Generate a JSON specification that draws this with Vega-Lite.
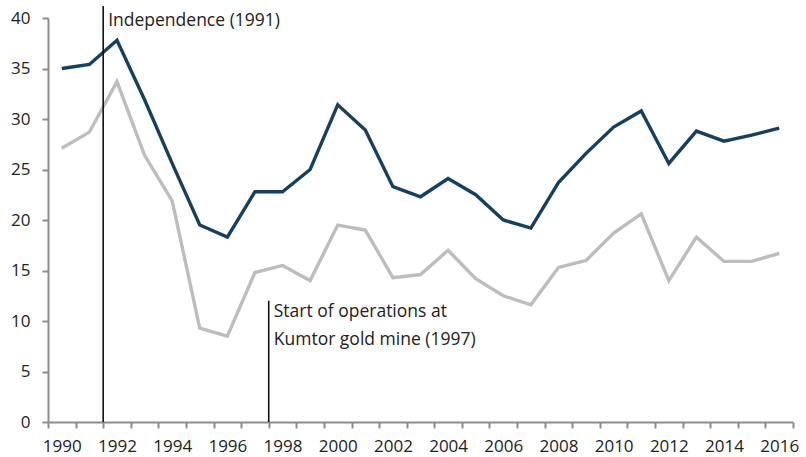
{
  "$schema": "https://vega.github.io/schema/vega-lite/v6.json",
  "width": 745,
  "height": 404,
  "autosize": {"type": "none"},
  "padding": {"left": 48, "top": 18, "right": 13, "bottom": 35},
  "background": "white",
  "config": {
    "view": {"stroke": null},
    "font": "Open Sans",
    "axis": {"grid": false, "labelFont": "Open Sans", "labelFontSize": 17, "labelColor": "#222222", "domainColor": "#8c8c8c", "tickColor": "#8c8c8c", "domainWidth": 2, "tickWidth": 2, "title": null}
  },
  "datasets": {
    "series": [
      {"year": 1990, "series": "A", "value": 35.0},
      {"year": 1991, "series": "A", "value": 35.4},
      {"year": 1992, "series": "A", "value": 37.8},
      {"year": 1993, "series": "A", "value": 31.9},
      {"year": 1994, "series": "A", "value": 25.6},
      {"year": 1995, "series": "A", "value": 19.5},
      {"year": 1996, "series": "A", "value": 18.3},
      {"year": 1997, "series": "A", "value": 22.8},
      {"year": 1998, "series": "A", "value": 22.8},
      {"year": 1999, "series": "A", "value": 25.0},
      {"year": 2000, "series": "A", "value": 31.4},
      {"year": 2001, "series": "A", "value": 28.9},
      {"year": 2002, "series": "A", "value": 23.3},
      {"year": 2003, "series": "A", "value": 22.3},
      {"year": 2004, "series": "A", "value": 24.1},
      {"year": 2005, "series": "A", "value": 22.5},
      {"year": 2006, "series": "A", "value": 20.0},
      {"year": 2007, "series": "A", "value": 19.2},
      {"year": 2008, "series": "A", "value": 23.7},
      {"year": 2009, "series": "A", "value": 26.6},
      {"year": 2010, "series": "A", "value": 29.2},
      {"year": 2011, "series": "A", "value": 30.8},
      {"year": 2012, "series": "A", "value": 25.6},
      {"year": 2013, "series": "A", "value": 28.8},
      {"year": 2014, "series": "A", "value": 27.8},
      {"year": 2015, "series": "A", "value": 28.4},
      {"year": 2016, "series": "A", "value": 29.1},
      {"year": 1990, "series": "B", "value": 27.1},
      {"year": 1991, "series": "B", "value": 28.7},
      {"year": 1992, "series": "B", "value": 33.7},
      {"year": 1993, "series": "B", "value": 26.4},
      {"year": 1994, "series": "B", "value": 21.9},
      {"year": 1995, "series": "B", "value": 9.3},
      {"year": 1996, "series": "B", "value": 8.5},
      {"year": 1997, "series": "B", "value": 14.8},
      {"year": 1998, "series": "B", "value": 15.5},
      {"year": 1999, "series": "B", "value": 14.0},
      {"year": 2000, "series": "B", "value": 19.5},
      {"year": 2001, "series": "B", "value": 19.0},
      {"year": 2002, "series": "B", "value": 14.3},
      {"year": 2003, "series": "B", "value": 14.6},
      {"year": 2004, "series": "B", "value": 17.0},
      {"year": 2005, "series": "B", "value": 14.2},
      {"year": 2006, "series": "B", "value": 12.5},
      {"year": 2007, "series": "B", "value": 11.6},
      {"year": 2008, "series": "B", "value": 15.3},
      {"year": 2009, "series": "B", "value": 16.0},
      {"year": 2010, "series": "B", "value": 18.7},
      {"year": 2011, "series": "B", "value": 20.6},
      {"year": 2012, "series": "B", "value": 14.0},
      {"year": 2013, "series": "B", "value": 18.3},
      {"year": 2014, "series": "B", "value": 15.9},
      {"year": 2015, "series": "B", "value": 15.9},
      {"year": 2016, "series": "B", "value": 16.7}
    ],
    "events": [
      {"year": 1991, "y0": 0, "y1": 41.2},
      {"year": 1997, "y0": 0, "y1": 12.0}
    ],
    "labels": [
      {"year": 1991, "y": 39.7, "text": "Independence (1991)"},
      {"year": 1997, "y": 10.9, "text": "Start of operations at"},
      {"year": 1997, "y": 8.1, "text": "Kumtor gold mine (1997)"}
    ]
  },
  "layer": [
    {
      "data": {"name": "series"},
      "mark": {"type": "line", "strokeWidth": 3.4, "clip": false},
      "encoding": {
        "x": {
          "field": "year", "type": "ordinal",
          "scale": {"type": "band", "paddingInner": 0, "paddingOuter": 0},
          "axis": {"tickBand": "extent", "labelAngle": 0, "labelExpr": "datum.value % 2 == 0 ? datum.label : ''", "tickSize": 6, "labelPadding": 10}
        },
        "y": {
          "field": "value", "type": "quantitative",
          "scale": {"domain": [0, 40], "nice": false},
          "axis": {"values": [0, 5, 10, 15, 20, 25, 30, 35, 40], "tickSize": 6, "labelPadding": 12}
        },
        "color": {"field": "series", "type": "nominal", "scale": {"domain": ["A", "B"], "range": ["#17405f", "#bdbdbd"]}, "legend": null},
        "order": {"field": "series", "sort": "descending"}
      }
    },
    {
      "data": {"name": "events"},
      "mark": {"type": "rule", "color": "#111111", "strokeWidth": 1.6, "clip": false},
      "encoding": {
        "x": {"field": "year", "type": "ordinal", "bandPosition": 1},
        "y": {"field": "y0", "type": "quantitative"},
        "y2": {"field": "y1"}
      }
    },
    {
      "data": {"name": "labels"},
      "mark": {"type": "text", "align": "left", "baseline": "middle", "dx": 5, "fontSize": 17.5, "color": "#222222", "font": "Open Sans"},
      "encoding": {
        "x": {"field": "year", "type": "ordinal", "bandPosition": 1},
        "y": {"field": "y", "type": "quantitative"},
        "text": {"field": "text"}
      }
    }
  ]
}
